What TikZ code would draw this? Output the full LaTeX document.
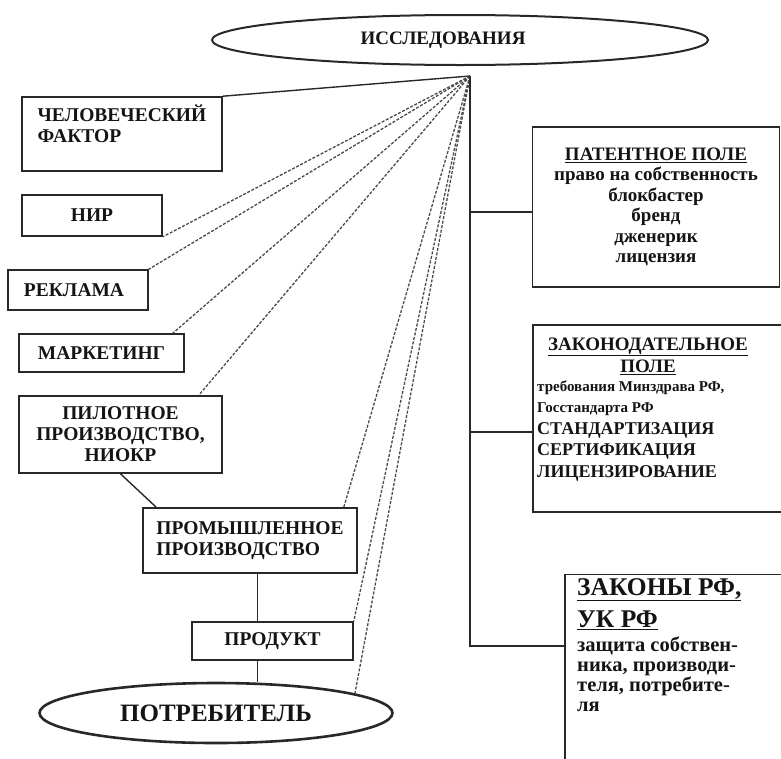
\documentclass[tikz,border=0pt]{standalone}
\usepackage{fontspec}
\setmainfont{Liberation Serif}
\usepackage{xcolor}
\definecolor{rsInk}{RGB}{20,20,20}
\definecolor{rsEdge}{RGB}{40,40,40}
\definecolor{rsFan}{RGB}{75,75,75}
\usepackage{tikz}
\usetikzlibrary{shapes.geometric}

\begin{document}
\begin{tikzpicture}[x=1pt, y=-1pt,
    rsbox/.style={draw=rsEdge, line width=1.6pt, fill=white, align=center,
      inner sep=2pt, text=rsInk, font=\fontsize{19.5}{21}\selectfont\bfseries},
    leftbox/.style={rsbox},
    fieldbox/.style={rsbox, font=\fontsize{19}{20.5}\selectfont\bfseries},
    oval/.style={ellipse, draw=rsEdge, line width=2pt, fill=white, inner sep=0pt,
      text=rsInk, font=\fontsize{19}{20}\selectfont\bfseries},
    plain/.style={inner sep=0pt, text=rsInk},
    fan/.style={draw=rsFan, line width=1.3pt, dash pattern=on 3pt off 1.6pt},
    link/.style={draw=rsEdge, line width=1.4pt},
    spine/.style={draw=rsEdge, line width=1.8pt}
  ]
    \useasboundingbox (0,0) rectangle (781,758);
    \clip (0,0) rectangle (781,758);

    \node[oval, minimum width=496pt, minimum height=50pt] (research) at (460,40) {};
    \node[plain, font=\fontsize{19}{20}\selectfont\bfseries] (researchtext) at (443,40) {ИССЛЕДОВАНИЯ};
    \coordinate (hub) at (470,76);

    \node[leftbox, minimum width=200pt, minimum height=74pt, align=left] (human) at (122,134) {ЧЕЛОВЕЧЕСКИЙ\\ФАКТОР\\\mbox{}};
    \node[leftbox, minimum width=140pt, minimum height=41pt] (nir) at (92,215.5) {НИР};
    \node[leftbox, minimum width=140pt, minimum height=40pt] (ads) at (78,290) {РЕКЛАМА\hspace{8pt}};
    \node[leftbox, minimum width=165pt, minimum height=38pt] (marketing) at (101.5,353) {МАРКЕТИНГ};
    \node[leftbox, minimum width=203pt, minimum height=77pt] (pilot) at (120.5,434.5) {ПИЛОТНОЕ\\ПРОИЗВОДСТВО,\\НИОКР};
    \node[leftbox, minimum width=214pt, minimum height=65pt, align=left] (industry) at (250,540.5) {ПРОМЫШЛЕННОЕ\\ПРОИЗВОДСТВО};
    \node[leftbox, minimum width=161pt, minimum height=38pt] (product) at (272.5,641) {ПРОДУКТ};
    \node[oval, line width=2.6pt, minimum width=353pt, minimum height=60pt,
      font=\fontsize{25}{27}\selectfont\bfseries] (consumer) at (216,713) {ПОТРЕБИТЕЛЬ};

    \node[fieldbox, minimum width=247pt, minimum height=160pt] (patent) at (656,207)
      {\underline{ПАТЕНТНОЕ ПОЛЕ}\\право на собственность\\блокбастер\\бренд\\дженерик\\лицензия};
    \node[fieldbox, minimum width=257pt, minimum height=187pt] (lawfield) at (661.5,418.5) {};
    \node[plain, align=center, font=\fontsize{19}{22}\selectfont\bfseries] (lawtitle) at (648,356)
      {\underline{ЗАКОНОДАТЕЛЬНОЕ}\\\underline{ПОЛЕ}};
    \node[plain, anchor=west, align=left, font=\fontsize{18}{21.5}\selectfont\bfseries] (lawlist) at (537,431)
      {{\fontsize{15}{21.5}\selectfont требования Минздрава РФ,}\\{\fontsize{15}{21.5}\selectfont Госстандарта РФ}\\СТАНДАРТИЗАЦИЯ\\СЕРТИФИКАЦИЯ\\ЛИЦЕНЗИРОВАНИЕ};
    \node[fieldbox, minimum width=235pt, minimum height=227pt] (laws) at (682.5,688) {};
    \node[plain, anchor=north west, align=left, font=\fontsize{25.5}{32}\selectfont\bfseries] (lawshead) at (577,578)
      {\underline{ЗАКОНЫ РФ,}\\\underline{УК РФ}};
    \node[plain, anchor=north west, align=left, font=\fontsize{20.5}{20}\selectfont\bfseries] (lawsbody) at (577,637)
      {защита собствен-\\ника, производи-\\теля, потребите-\\ля};

    \coordinate (lawjoin) at ([yshift=-13.5pt]lawfield.west);
    \coordinate (patjoin) at ([yshift=-5pt]patent.west);

    \draw[link] (hub) -- (human.north east);
    \draw[fan] (hub) -- (nir.south east);
    \draw[fan] (hub) -- (ads.north east);
    \draw[fan] (hub) -- ([xshift=-12pt]marketing.north east);
    \draw[fan] (hub) -- ([xshift=-24pt]pilot.north east);
    \draw[fan] (hub) -- ([xshift=-14pt]industry.north east);
    \draw[fan] (hub) -- (product.north east);
    \draw[fan] (hub) -- (consumer.8);
    \draw[link] (pilot.south) -- ([xshift=14pt]industry.north west);
    \draw[link] ([xshift=-15pt]product.north |- industry.south) -- ([xshift=-15pt]product.north);
    \draw[link] ([xshift=-15pt]product.south) -- ([xshift=-15pt]product.south |- consumer.north);
    \draw[spine] (hub) |- ([yshift=-72pt]laws.north west);
    \draw[spine] (hub |- patjoin) -- (patjoin);
    \draw[spine] (hub |- lawjoin) -- (lawjoin);
  \end{tikzpicture}
\end{document}
